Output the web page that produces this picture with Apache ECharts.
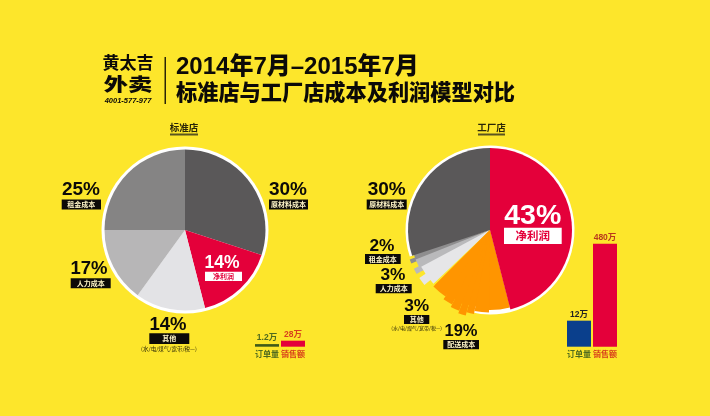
<!DOCTYPE html>
<html>
<head>
<meta charset="utf-8">
<style>
  html, body { margin: 0; padding: 0; background: #fde62b; }
  #chart { width: 710px; height: 416px; }
</style>
</head>
<body>
<div id="chart"></div>
<script src="https://cdn.jsdelivr.net/npm/echarts@6/dist/echarts.min.js"></script>
<script>
// printed labels
var standardPercents = ['30%', '14%', '14%', '17%', '25%']
var standardNames = ['原材料成本', '净利润', '其他', '人力成本', '租金成本']
var factoryPercents = ['43%', '19%', '3%', '3%', '2%', '30%']
var factoryNames = ['净利润', '配送成本', '其他', '人力成本', '租金成本', '原材料成本']
var otherNote = '(水/电/煤气/宽带/税—)'

// slice shares as drawn (the picture's sweeps differ a bit from the printed numbers)
var standardShares = [30, 16, 14, 15, 25]
var factoryRed = 46
var factoryOrange = [4.2, 2.8, 1.4, 1.4, 1.7, 1.9, 3.1]   // one slice, cut up so its edge can bulge to a corner
var factoryThin = [3.9, 2.2, 1.5]
var factoryDark = 30.1

var barCategories = ['订单量', '销售额']
var standardOrders = 1.2
var standardSales = 28
var factoryOrders = 12
var factorySales = 480

var BLACK = '#0c0a08'
var RED = '#e4003a'
var ORANGE = '#ff9500'

function wedge(center, start, share, r, color, z) {
  return {
    type: 'pie', center: center, radius: [0, r], z: z,
    startAngle: 90 - start * 3.6, clockwise: true, silent: true, animation: false,
    label: { show: false }, labelLine: { show: false },
    data: [
      { value: share, itemStyle: { color: color } },
      { value: 100 - share, itemStyle: { color: 'transparent' } }
    ]
  }
}

function sum(a) {
  return a.reduce(function (t, v) { return t + v }, 0)
}

var series = []

// left pie
var leftC = [185, 230]
series.push(wedge(leftC, 0, 99.999, 83.5, '#fff', 1))
var leftColors = ['#5a5859', RED, '#e3e3e6', '#b7b6b7', '#858484']
var acc = 0
standardShares.forEach(function (v, i) {
  series.push(wedge(leftC, acc, v, 80.5, leftColors[i], 2))
  acc += v
})

// right pie
var rightC = [490, 230]
var darkStart = 100 - factoryDark
// white rim runs from the dark slice round to the bottom of the orange one
series.push(wedge(rightC, darkStart, factoryDark + factoryRed + 8, 84.5, '#fff', 1))
series.push(wedge(rightC, 0, factoryRed, 82, RED, 4))
series.push(wedge(rightC, darkStart, factoryDark, 82, '#5a5859', 4))

// orange, base wedge hides the seams between the parts
var orangeRadii = [80, 82.5, 85.5, 89, 86.5, 83.5, 80]
series.push(wedge(rightC, factoryRed, sum(factoryOrange), 78, ORANGE, 3))
acc = factoryRed
factoryOrange.forEach(function (v, i) {
  series.push(wedge(rightC, acc, v, orangeRadii[i], ORANGE, 3))
  acc += v
})

// thin slices fan out under the dark one, each with a pointed end on its lower side
var bladeColors = ['#e6e6e8', '#b9b9bb', '#8f8e8f']
var bladeBody = [78, 80, 80]
var bladeTipOffset = [1.4, 0, 0]
var bladeTipShare = [1.6, 1.1, 0.8]
factoryThin.forEach(function (v, i) {
  var z = 2 - i * 0.1
  series.push(wedge(rightC, acc + (i === 0 ? 0.4 : 0), v + 0.4, bladeBody[i], bladeColors[i], z))
  series.push(wedge(rightC, acc + bladeTipOffset[i], bladeTipShare[i], 85.5, bladeColors[i], z))
  acc += v
})

// bars: two scales per group, orders and sales have their own axis
var barH = 103
var ordersMax = 47.5
var salesMax = 480
var grids = [
  { left: 254, top: 346.7 - barH, width: 52, height: barH },
  { left: 566, top: 346.7 - barH, width: 52, height: barH }
]
var xAxes = grids.map(function (g, i) {
  return {
    type: 'category', gridIndex: i, data: barCategories,
    axisLine: { show: false }, axisTick: { show: false },
    axisLabel: {
      interval: 0, margin: 3, fontSize: 8, fontWeight: 'bold', fontFamily: 'Noto Sans CJK SC',
      color: function (v) { return v === '订单量' ? '#4f6a1e' : '#d8401c' }
    }
  }
})
var yAxes = []
grids.forEach(function (g, i) {
  yAxes.push({ type: 'value', gridIndex: i, min: 0, max: ordersMax, show: false, splitLine: { show: false } })
  yAxes.push({ type: 'value', gridIndex: i, min: 0, max: salesMax, show: false, splitLine: { show: false } })
})
function bar(group, axisOffset, values, color, labelColor) {
  return {
    type: 'bar', xAxisIndex: group, yAxisIndex: group * 2 + axisOffset,
    barWidth: 24, barGap: '-100%', animation: false, silent: true, data: values,
    itemStyle: { color: color },
    label: {
      show: true, position: 'top', distance: 2, fontSize: 8.5, fontWeight: 'bold',
      fontFamily: 'Liberation Sans, Noto Sans CJK SC', color: labelColor,
      formatter: function (p) { return p.value + '万' }
    }
  }
}
series.push(bar(0, 0, [standardOrders, null], '#3f5a18', '#4f6a1e'))
series.push(bar(0, 1, [null, standardSales], RED, '#d8401c'))
series.push(bar(1, 0, [factoryOrders, null], '#0a3f8c', '#222'))
series.push(bar(1, 1, [null, factorySales], RED, '#b8391c'))

// text
var CJK = '"Noto Sans CJK SC"'
var LATIN = '"Liberation Sans"'
var graphic = []
function text(str, x, y, font, fill, extra) {
  var el = {
    type: 'text', x: x, y: y, z: 50,
    style: { text: str, font: font, fill: fill, align: 'center', verticalAlign: 'middle' }
  }
  if (extra) { for (var k in extra) el[k] = extra[k] }
  graphic.push(el)
}
function rect(x0, y0, x1, y1, fill) {
  graphic.push({ type: 'rect', z: 49, shape: { x: x0, y: y0, width: x1 - x0, height: y1 - y0 }, style: { fill: fill } })
}
function tag(pct, name, cx, pctY, size, x0, y0, x1, y1, inverse, nameSize) {
  text(pct, cx, pctY, 'bold ' + size + 'px ' + LATIN, inverse ? '#fff' : BLACK)
  rect(x0, y0, x1, y1, inverse ? '#fff' : BLACK)
  text(name, (x0 + x1) / 2, (y0 + y1) / 2, 'bold ' + (nameSize || 7) + 'px ' + CJK, inverse ? RED : '#fff6c8')
}

// header
text('黄太吉', 128, 63, 'bold 17px ' + CJK, BLACK)
text('外卖', 128, 84, '900 18px ' + CJK, BLACK, { scaleX: 1.35 })
text('4001-577-977', 128, 101, 'italic bold 7.5px ' + LATIN, BLACK)
rect(164.5, 57, 166, 104, '#2a2608')
graphic.push({ type: 'text', x: 176, y: 67, z: 50, style: { text: '2014年7月–2015年7月', font: '900 24px ' + LATIN + ',' + CJK, fill: BLACK, align: 'left', verticalAlign: 'middle' } })
graphic.push({ type: 'text', x: 176, y: 92, z: 50, style: { text: '标准店与工厂店成本及利润模型对比', font: '900 21.2px ' + CJK, fill: BLACK, align: 'left', verticalAlign: 'middle' } })

text('标准店', 184, 127, 'bold 9.5px ' + CJK, '#2a2608')
rect(170, 133.5, 198, 135.5, '#5a5420')
text('工厂店', 491.5, 127, 'bold 9.5px ' + CJK, '#2a2608')
rect(478, 133.5, 505, 135.5, '#5a5420')

// left pie tags
tag(standardPercents[0], standardNames[0], 288, 190, 19, 269, 199.5, 308, 209.5)
tag(standardPercents[4], standardNames[4], 81, 190, 19, 61.7, 199.5, 101, 209.5)
tag(standardPercents[3], standardNames[3], 89, 269, 18.5, 70.7, 278.3, 110.7, 288.3)
tag(standardPercents[1], standardNames[1], 222, 263, 17.5, 205, 271.7, 242, 281, true)
tag(standardPercents[2], standardNames[2], 168, 325, 18.5, 149.3, 333.3, 189.3, 344)
text(otherNote, 169, 349, '5.5px ' + CJK, '#2a2608')

// right pie tags
tag(factoryPercents[5], factoryNames[5], 386.7, 190, 19, 366.7, 199.5, 406.7, 209.5)
tag(factoryPercents[4], factoryNames[4], 382, 246, 17.3, 365, 254, 400.7, 264)
tag(factoryPercents[3], factoryNames[3], 393, 275.7, 17.3, 375.7, 284, 411.7, 293.3)
tag(factoryPercents[2], factoryNames[2], 416.7, 306, 17.3, 404, 315, 429.3, 324)
text(otherNote, 416.7, 328, '5px ' + CJK, '#2a2608')
tag(factoryPercents[1], factoryNames[1], 461, 331.3, 16.5, 443.3, 340, 479, 349.3)
tag(factoryPercents[0], factoryNames[0], 532.7, 215.7, 28.5, 504, 227.7, 561.7, 244, true, 11.5)

var chart = echarts.init(document.getElementById('chart'))
chart.setOption({
  backgroundColor: '#fde62b',
  animation: false,
  grid: grids,
  xAxis: xAxes,
  yAxis: yAxes,
  series: series,
  graphic: graphic
})
</script>
</body>
</html>
